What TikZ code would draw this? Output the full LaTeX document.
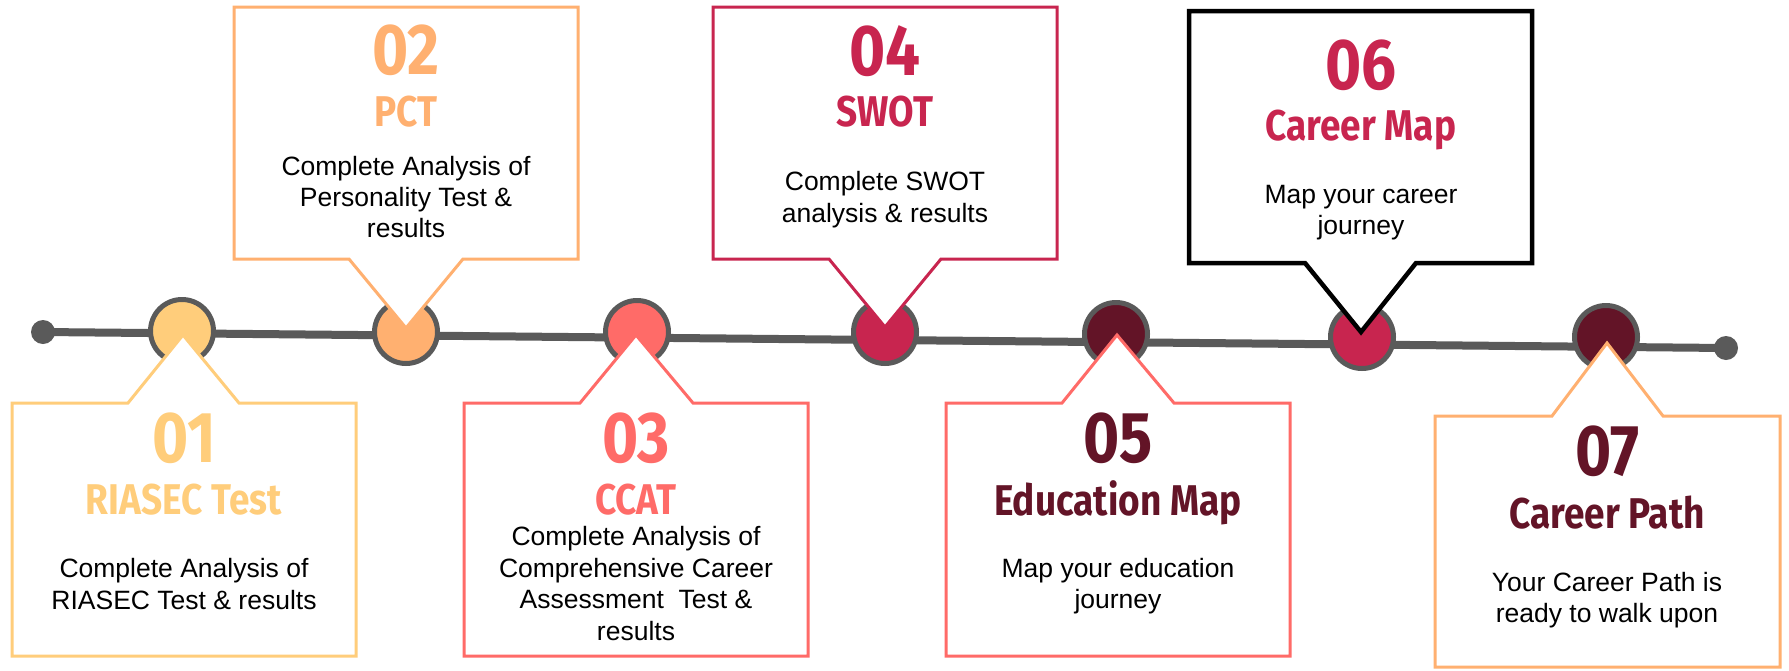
\documentclass[tikz,border=0pt]{standalone}
\usepackage{fontspec}
\setmainfont{Liberation Sans}
\newfontfamily\ttlfont[FakeStretch=0.86]{Fira Sans}
\definecolor{cyel}{HTML}{FFCD7B}
\definecolor{cpeach}{HTML}{FFB070}
\definecolor{ccoral}{HTML}{FF6B68}
\definecolor{ccrim}{HTML}{C8254F}
\definecolor{cmaroon}{HTML}{631427}
\definecolor{cgray}{HTML}{5A5A5A}
\tikzset{
  tline/.style={draw=cgray, line width=8pt},
  enddot/.style={circle, fill=cgray, inner sep=0pt, minimum size=24pt},
  stage/.style={circle, draw=cgray, line width=5pt, inner sep=0pt, minimum size=63pt},
  callout/.style={fill=white, line width=3pt, line join=miter},
  numtxt/.style={font=\ttlfont\bfseries\fontsize{72}{72}\selectfont, inner sep=0pt, anchor=base},
  ttltxt/.style={font=\ttlfont\bfseries\fontsize{43}{43}\selectfont, inner sep=0pt, anchor=base},
  bodytxt/.style={font=\fontsize{26.5}{32}\selectfont, inner sep=0pt, anchor=base, text=black},
}
\begin{document}
\begin{tikzpicture}[x=1pt,y=-1pt]
\useasboundingbox (0,0) rectangle (1789,670);
\fill[white] (0,0) rectangle (1789,670);

% timeline
\coordinate (s) at (43,332);
\coordinate (e) at (1726,348);
\draw[tline] (s) -- (e);
\node[enddot] (d0) at (s) {};
\node[enddot] (d8) at (e) {};
\node[stage, fill=cyel]    (c1) at (182,331) {};
\node[stage, fill=cpeach]  (c2) at (406,332) {};
\node[stage, fill=ccoral]  (c3) at (637,332) {};
\node[stage, fill=ccrim]   (c4) at (885,332) {};
\node[stage, fill=cmaroon] (c5) at (1116,334) {};
\node[stage, fill=ccrim]   (c6) at (1362,337) {};
\node[stage, fill=cmaroon] (c7) at (1606,337) {};

% callouts above
\draw[callout, draw=cpeach] (234,7) -- (578,7) -- (578,259) -- (463,259) -- (406,328) -- (349,259) -- (234,259) -- cycle;
\draw[callout, draw=ccrim] (713,7) -- (1057,7) -- (1057,259) -- (941,259) -- (885,327) -- (829,259) -- (713,259) -- cycle;
\draw[callout, draw=black, line width=4.5pt] (1189,11) -- (1532,11) -- (1532,263) -- (1416,263) -- (1361,332) -- (1305,263) -- (1189,263) -- cycle;

% callouts below
\draw[callout, draw=cyel] (12,403) -- (128,403) -- (183,335) -- (239,403) -- (356,403) -- (356,656) -- (12,656) -- cycle;
\draw[callout, draw=ccoral] (464,403) -- (580,403) -- (636,335) -- (693,403) -- (808,403) -- (808,656) -- (464,656) -- cycle;
\draw[callout, draw=ccoral] (946,403) -- (1062,403) -- (1117,335) -- (1174,403) -- (1290,403) -- (1290,656) -- (946,656) -- cycle;
\draw[callout, draw=cpeach] (1435,416) -- (1552,416) -- (1607,343) -- (1663,416) -- (1780,416) -- (1780,667) -- (1435,667) -- cycle;

% texts 01
\node[numtxt, text=cyel] (n1) at (184,462) {01};
\node[ttltxt, text=cyel] (t1) at (184,514) {RIASEC Test};
\node[bodytxt] (b1a) at (184,577) {Complete Analysis of};
\node[bodytxt] (b1b) at (184,609) {RIASEC Test \& results};

% texts 02
\node[numtxt, text=cpeach] (n2) at (406,74) {02};
\node[ttltxt, text=cpeach] (t2) at (406,126) {PCT};
\node[bodytxt] (b2a) at (406,175) {Complete Analysis of};
\node[bodytxt] (b2b) at (406,206) {Personality Test \&};
\node[bodytxt] (b2c) at (406,237) {results};

% texts 03
\node[numtxt, text=ccoral] (n3) at (636,462) {03};
\node[ttltxt, text=ccoral] (t3) at (636,514) {CCAT};
\node[bodytxt] (b3a) at (636,545) {Complete Analysis of};
\node[bodytxt] (b3b) at (636,577) {Comprehensive Career};
\node[bodytxt] (b3c) at (636,608) {Assessment\ \ Test \&};
\node[bodytxt] (b3d) at (636,640) {results};

% texts 04
\node[numtxt, text=ccrim] (n4) at (885,75) {04};
\node[ttltxt, text=ccrim] (t4) at (885,126) {SWOT};
\node[bodytxt] (b4a) at (885,190) {Complete SWOT};
\node[bodytxt] (b4b) at (885,222) {analysis \& results};

% texts 05
\node[numtxt, text=cmaroon] (n5) at (1118,462) {05};
\node[ttltxt, text=cmaroon] (t5) at (1118,515) {Education Map};
\node[bodytxt] (b5a) at (1118,577) {Map your education};
\node[bodytxt] (b5b) at (1118,608) {journey};

% texts 06
\node[numtxt, text=ccrim] (n6) at (1361,89) {06};
\node[ttltxt, text=ccrim] (t6) at (1361,140) {Career Map};
\node[bodytxt] (b6a) at (1361,203) {Map your career};
\node[bodytxt] (b6b) at (1361,234) {journey};

% texts 07
\node[numtxt, text=cmaroon] (n7) at (1607,475) {07};
\node[ttltxt, text=cmaroon] (t7) at (1607,528) {Career Path};
\node[bodytxt] (b7a) at (1607,591) {Your Career Path is};
\node[bodytxt] (b7b) at (1607,622) {ready to walk upon};
\end{tikzpicture}
\end{document}
